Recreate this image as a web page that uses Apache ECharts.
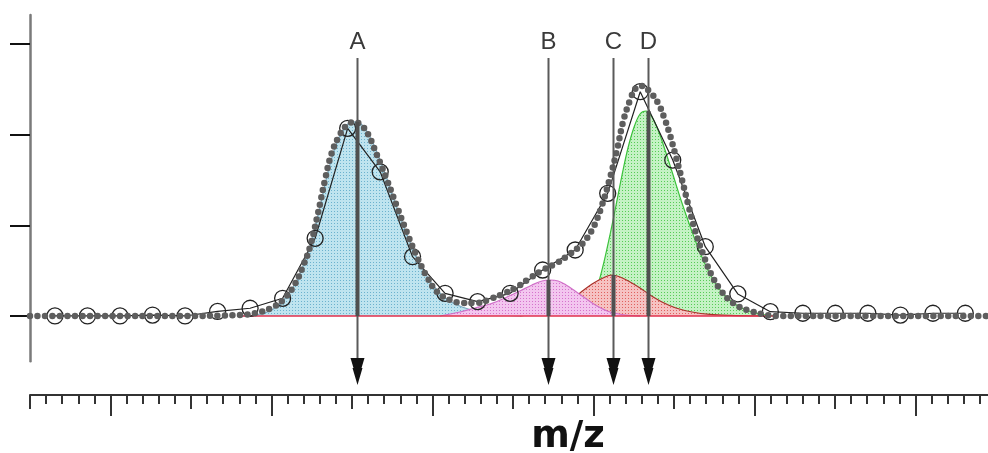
<!DOCTYPE html>
<html>
<head>
<meta charset="utf-8">
<script src="https://cdn.jsdelivr.net/npm/echarts@6/dist/echarts.min.js"></script>
<style>
html,body{margin:0;padding:0;background:#fff;}
#chart{width:988px;height:453px;}
</style>
</head>
<body>
<div id="chart"></div>
<script>
// ---- data (m/z in ruler-tick units, intensity in y-tick units) ----
const obsX = [1.55,3.57,5.59,7.61,9.63,11.65,13.67,15.69,17.71,19.73,21.75,23.76,25.78,27.80,29.82,31.84,33.86,35.88,37.90,39.92,41.94,43.96,45.98,48.00,50.02,52.04,54.06,56.08,58.09];
const obsY = [0,0,0,0.01,0,0.05,0.085,0.195,0.857,2.07,1.59,0.654,0.25,0.158,0.25,0.507,0.728,1.353,2.474,1.72,0.764,0.243,0.047,0.03,0.03,0.03,0.01,0.03,0.03];

const fitX = [0,4.35,9.32,13.04,14.29,15.22,15.84,16.46,16.96,17.39,17.89,18.32,18.70,19.13,19.63,20.12,20.56,20.99,21.55,22.17,22.80,23.42,24.04,24.66,25.28,26.09,26.89,27.76,28.57,29.38,30.25,31.06,31.86,32.73,33.54,34.35,34.97,35.53,36.02,36.46,36.83,37.27,37.64,38.01,38.51,39.01,39.44,39.75,40.12,40.50,40.87,41.30,41.80,42.36,42.98,43.66,44.53,45.47,46.27,50.93,59.50];
const fitY = [0,0,0,0.011,0.044,0.11,0.199,0.353,0.551,0.761,1.136,1.50,1.776,1.963,2.096,2.14,2.107,2.007,1.776,1.50,1.202,0.915,0.651,0.43,0.265,0.176,0.143,0.143,0.187,0.243,0.32,0.419,0.507,0.585,0.684,0.805,0.971,1.224,1.522,1.831,2.14,2.382,2.515,2.537,2.47,2.349,2.162,1.996,1.754,1.50,1.235,0.948,0.684,0.441,0.265,0.143,0.066,0.022,0,0,0];

const compAX = [13.04,13.98,14.91,15.71,16.52,17.27,17.89,18.51,19.07,19.63,20.12,20.56,20.99,21.49,22.11,22.73,23.35,23.98,24.60,25.22,25.96,26.83,27.95,29.19,30.43];
const compAY = [0,0.011,0.055,0.165,0.375,0.706,1.114,1.588,1.919,2.096,2.14,2.118,2.018,1.831,1.544,1.224,0.926,0.662,0.452,0.298,0.176,0.099,0.044,0.011,0];

const compBX = [25.47,26.71,27.64,28.57,29.50,30.43,31.18,31.80,32.30,32.80,33.29,33.85,34.47,35.22,36.02,36.96,37.89];
const compBY = [0,0.044,0.088,0.132,0.199,0.276,0.342,0.386,0.397,0.386,0.342,0.276,0.199,0.11,0.044,0.011,0];

const compCX = [30.43,31.68,32.61,33.35,34.16,34.91,35.59,36.15,36.65,37.27,37.89,38.51,39.25,40.12,41.12,42.24,43.48,45.34];
const compCY = [0,0.033,0.077,0.143,0.254,0.353,0.419,0.452,0.43,0.375,0.309,0.232,0.154,0.088,0.044,0.017,0.006,0];

const compDX = [34.47,34.91,35.28,35.65,36.02,36.40,36.77,37.14,37.52,37.89,38.26,38.63,39.01,39.44,39.94,40.43,40.99,41.55,42.17,42.86,43.60,44.47,45.34,46.27];
const compDY = [0,0.121,0.342,0.596,0.893,1.224,1.555,1.853,2.084,2.228,2.261,2.195,2.051,1.831,1.555,1.279,0.993,0.728,0.485,0.287,0.154,0.066,0.022,0];

const baseX = [13.0, 46.3];
const baseY = [0, 0];

const arrowLabels = ['A','B','C','D'];
const arrowX = [20.29, 32.19, 36.23, 38.40];

const yTicks = [0,1,2,3];
const rulerMinorTicks = [0,1,2,3,4,5,6,7,8,9,10,11,12,13,14,15,16,17,18,19,20,21,22,23,24,25,26,27,28,29,30,31,32,33,34,35,36,37,38,39,40,41,42,43,44,45,46,47,48,49,50,51,52,53,54,55,56,57,58,59];
const rulerMidTicks = [0,10,20,30,40,50];
const rulerLongTicks = [5,15,25,35,45,55];
const xMin = 0, xMax = 59.5;
const yMin = -0.5, yMax = 3.32;

// ---- helpers ----
const zip = (xs, ys) => xs.map((x, i) => [x, ys[i]]);
const peakOf = ys => Math.max.apply(null, ys);
const arrowPeaks = [peakOf(compAY), peakOf(compBY), peakOf(compCY), peakOf(compDY)];

function dotPattern(bg, dot) {
  const c = document.createElement('canvas');
  c.width = 3; c.height = 3;
  const ctx = c.getContext('2d');
  ctx.fillStyle = bg; ctx.fillRect(0, 0, 3, 3);
  ctx.fillStyle = dot; ctx.fillRect(1, 1, 1, 1);
  return { image: c, repeat: 'repeat' };
}

function compSeries(name, xs, ys, line, bg, dot, z) {
  return {
    name, type: 'line', xAxisIndex: 0, yAxisIndex: 0,
    data: zip(xs, ys), smooth: 0.35, showSymbol: false, silent: true,
    lineStyle: { color: line, width: 1.2 },
    areaStyle: { color: dotPattern(bg, dot), opacity: 1 },
    z
  };
}

function rulerAxis(values, len, showLine) {
  return { type: 'value', gridIndex: 1, min: xMin, max: xMax, position: 'bottom',
    axisLine: { show: showLine, lineStyle: { color: '#333', width: 2 } },
    axisTick: { show: true, customValues: values, length: len, lineStyle: { color: '#333', width: 2 } },
    axisLabel: { show: false }, splitLine: { show: false } };
}

const chart = echarts.init(document.getElementById('chart'), null, { renderer: 'canvas' });

chart.setOption({
  animation: false,
  backgroundColor: '#ffffff',
  grid: [
    { left: 30, right: 0, top: 15, height: 346.3 },
    { left: 30, right: 0, top: 394, height: 1 }
  ],
  xAxis: [
    { type: 'value', gridIndex: 0, min: xMin, max: xMax, show: false },
    rulerAxis(rulerMinorTicks, 9, true),
    rulerAxis(rulerMidTicks, 14, false),
    rulerAxis(rulerLongTicks, 21, false)
  ],
  yAxis: [
    { type: 'value', gridIndex: 0, min: yMin, max: yMax, position: 'left',
      axisLine: { show: true, lineStyle: { color: '#7a7a7a', width: 2.5 } },
      axisTick: { show: true, customValues: yTicks, length: 20, lineStyle: { color: '#111', width: 2 } },
      axisLabel: { show: false }, splitLine: { show: false } },
    { type: 'value', gridIndex: 1, show: false, min: 0, max: 1 }
  ],
  graphic: [
    { type: 'text', z: 10,
      style: { text: 'm/z', x: 568, y: 437, align: 'center', verticalAlign: 'middle',
        font: 'bold 37px "DejaVu Sans", "Liberation Sans", Arial, sans-serif', fill: '#111' } }
  ],
  series: [
    compSeries('A', compAX, compAY, '#7aa9c0', '#bfe4ef', '#6cb2ce', 1),
    compSeries('D', compDX, compDY, '#3cc23c', '#c4f2c4', '#55cc55', 2),
    compSeries('C', compCX, compCY, '#a8322a', '#f6c2c2', '#e0605e', 3),
    compSeries('B', compBX, compBY, '#d070c8', '#f3c6ef', '#d673cc', 4),
    { name: 'baseline', type: 'line', data: zip(baseX, baseY), showSymbol: false, silent: true,
      lineStyle: { color: '#e0304c', width: 1.5 }, z: 5 },
    { name: 'observed', type: 'line', data: zip(obsX, obsY), smooth: false,
      symbol: 'circle', symbolSize: 16, showSymbol: true,
      itemStyle: { color: 'rgba(0,0,0,0)', borderColor: '#222', borderWidth: 1.3 },
      lineStyle: { color: '#222', width: 1.2 }, z: 6 },
    { name: 'fit', type: 'line', data: zip(fitX, fitY), smooth: 0.4, showSymbol: false, silent: true,
      lineStyle: { color: '#5e5e5e', width: 6.5, type: [0, 7.5], cap: 'round' }, z: 7 },
    { name: 'arrows', type: 'custom', xAxisIndex: 0, yAxisIndex: 0, clip: false, silent: true, z: 8,
      data: arrowX.map((x, i) => [x, arrowPeaks[i], i]),
      renderItem: function (params, api) {
        const x = api.value(0), h = api.value(1), idx = api.value(2);
        const base = api.coord([x, 0]);
        const top = api.coord([x, h]);
        const gy = params.coordSys.y;
        const px = Math.round(base[0]) + 0.5;
        const by = base[1];
        return { type: 'group', children: [
          { type: 'text', style: { text: arrowLabels[idx], x: px, y: gy + 27, align: 'center', verticalAlign: 'middle',
              font: '24px "Liberation Sans", Arial, sans-serif', fill: '#3a3a3a' } },
          { type: 'line', shape: { x1: px, y1: gy + 43, x2: px, y2: by + 45 }, style: { stroke: '#5a5a5a', lineWidth: 2 } },
          { type: 'line', shape: { x1: px, y1: top[1], x2: px, y2: by }, style: { stroke: '#505050', lineWidth: 4 } },
          { type: 'polygon', shape: { points: [[px - 7, by + 42], [px + 7, by + 42], [px + 4, by + 52], [px + 5, by + 52], [px, by + 69], [px - 5, by + 52], [px - 4, by + 52]] },
            style: { fill: '#111' } }
        ] };
      }
    }
  ]
});
</script>
</body>
</html>
